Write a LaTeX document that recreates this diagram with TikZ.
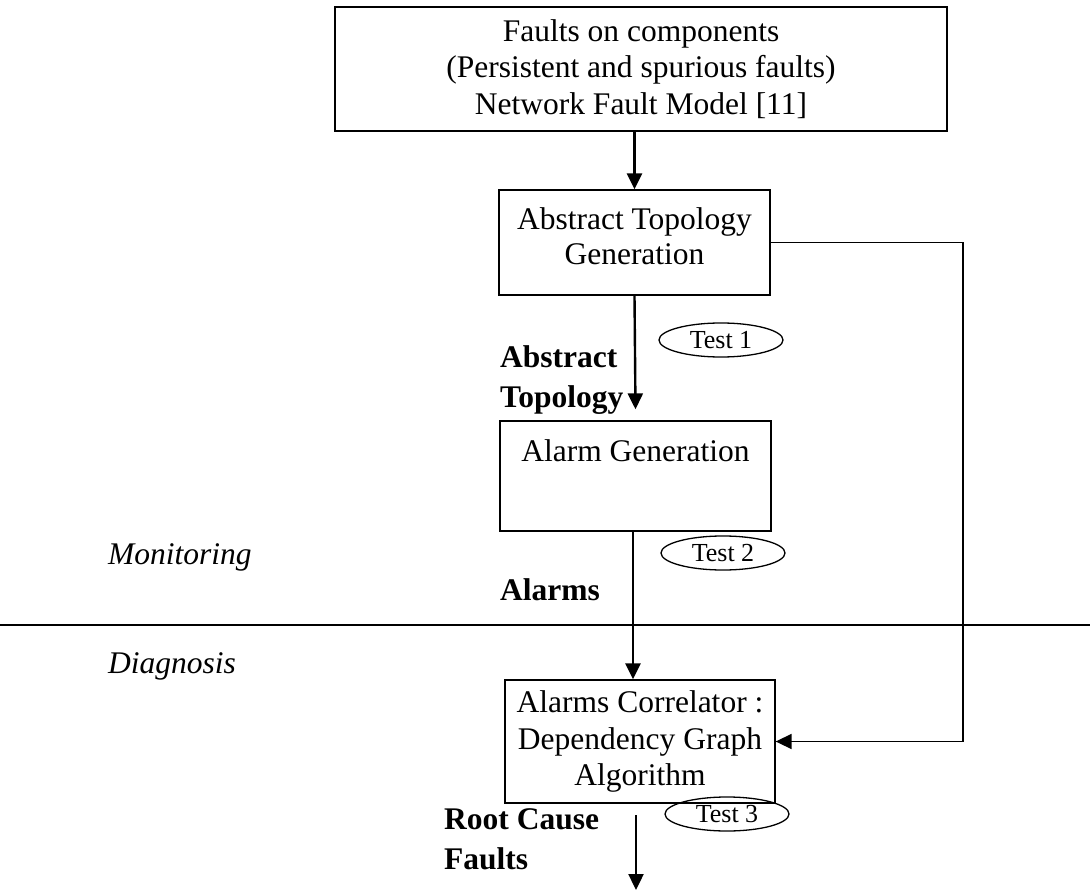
\documentclass[tikz,border=0pt]{standalone}
\usepackage{fontspec}
\setmainfont{Liberation Serif}
\usetikzlibrary{arrows.meta,shapes.geometric}
\begin{document}
\begin{tikzpicture}[x=1pt,y=-1pt,
  box/.style={draw, line width=1.3pt, align=center, inner sep=0pt, font=\fontsize{31.5}{36.5}\selectfont},
  lbl/.style={font=\fontsize{31.5}{40}\selectfont\bfseries, align=left, anchor=west, inner sep=0pt},
  sidelbl/.style={font=\fontsize{31.5}{36.5}\selectfont\itshape, anchor=west, inner sep=0pt},
  test/.style={draw, ellipse, line width=1.3pt, minimum width=124pt, minimum height=34pt, inner sep=0pt, font=\fontsize{26}{30}\selectfont},
  arr/.style={line width=2.4pt, -{Triangle[length=16pt,width=15pt]}},
  thin/.style={line width=1.6pt}]
\useasboundingbox (0,0) rectangle (1090,896);
% boxes
\node[box, minimum width=612pt, minimum height=124pt] (top) at (641,69)
  {Faults on components\\(Persistent and spurious faults)\\Network Fault Model [11]};
\node[box, minimum width=271pt, minimum height=105pt] (atg) at (634.5,242.5)
  {Abstract Topology\\[-1.5pt]Generation\\[-24pt]\mbox{}};
\node[box, minimum width=271pt, minimum height=110pt] (alarm) at (635.5,476)
  {Alarm Generation\\[14pt]\mbox{}};
\node[box, minimum width=270pt, minimum height=123pt] (corr) at (640,741.5)
  {Alarms Correlator :\\Dependency Graph\\Algorithm};
% test ellipses
\node[test] (t1) at (721,340) {Test 1};
\node[test] (t2) at (723,553) {Test 2};
\node[test] (t3) at (727,814) {Test 3};
% labels
\node[lbl] (abs) at (500,380) {Abstract\\Topology};
\node[lbl] (alm) at (500,590) {Alarms};
\node[lbl] (rcf) at (444,839) {Root Cause\\Faults};
\node[sidelbl] (mon) at (108,557) {Monitoring};
\node[sidelbl] (dia) at (108,666) {Diagnosis};
% separator
\coordinate (hl) at (0,625);
\coordinate (hr) at (1090,625);
\draw[thin] (hl) -- (hr);
% connectors
\draw[arr] (atg.north |- top.south) -- (atg.north);
\draw[arr] (atg.south) -- ([yshift=11pt]alarm.north);
\coordinate (a3) at (633,0);
\draw[arr] (alarm.south -| a3) -- (corr.north -| a3);
\coordinate (rt) at (963,0);
\draw[thin, -{Triangle[length=16pt,width=15pt]}] (atg.east) -- (atg.east -| rt) -- (corr.east -| rt) -- (corr.east);
\coordinate (fs) at (636,815);
\coordinate (fe) at (636,890);
\draw[arr] (fs) -- (fe);
\end{tikzpicture}
\end{document}
